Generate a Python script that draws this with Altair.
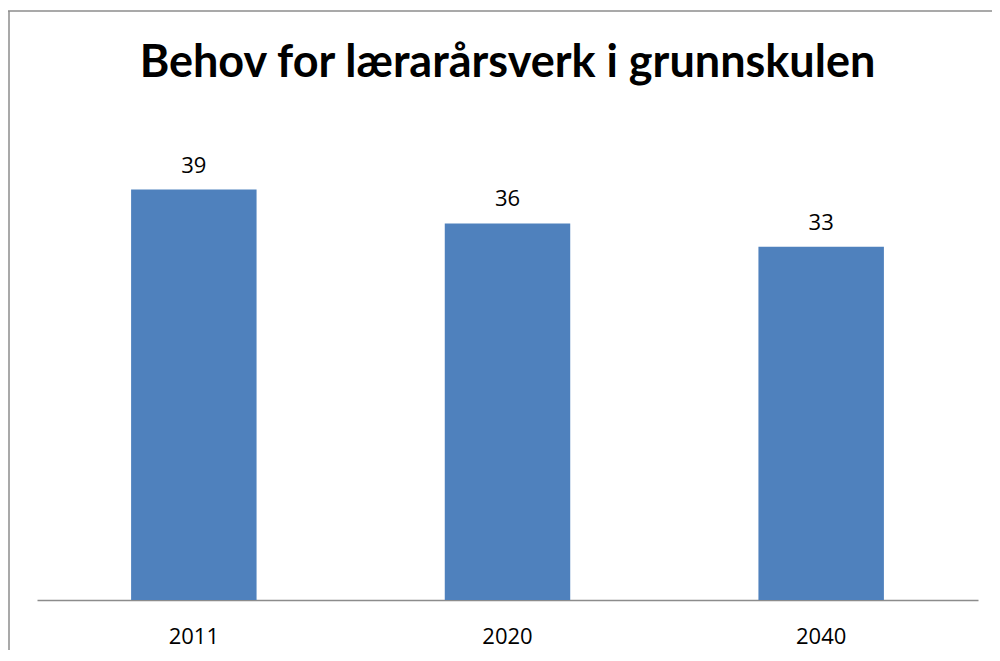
import altair as alt
import pandas as pd

years = ["2011", "2020", "2040"]
values = [38.8, 35.6, 33.4]
labels = ["39", "36", "33"]
title_text = ["Behov for lærarårsverk i grunnskulen"]

df = pd.DataFrame({"year": years, "value": values, "label": labels})

W, H = 941, 476

base = alt.Chart(df).encode(
    x=alt.X("year:N", sort=years, title=None,
            scale=alt.Scale(paddingInner=0.6, paddingOuter=0.3),
            axis=alt.Axis(labelAngle=0, labelFont="Open Sans", labelFontSize=22,
                          labelColor="#000000", labelPadding=26, ticks=False,
                          domainColor="#8c8c8c", domainWidth=1.5)),
    y=alt.Y("value:Q", scale=alt.Scale(domain=[0, 45], nice=False, zero=True),
            axis=None),
)

bars = base.mark_bar(color="#4F81BD")
text = base.mark_text(dy=-17, baseline="alphabetic", font="Open Sans",
                      fontSize=22, color="#000000").encode(text="label:N")

title = alt.Chart(pd.DataFrame({"t": title_text})).mark_text(
    font="Lato", fontSize=45, fontWeight="bold",
    color="#000000", align="center", baseline="alphabetic"
).encode(text="t:N", x=alt.value(W / 2), y=alt.value(-47))

frame = alt.Chart(alt.Data(values=[{"a": 1}]))
top_line = frame.mark_rule(color="#8c8c8c", strokeWidth=1.5).encode(
    x=alt.value(-29), x2=alt.value(1000), y=alt.value(-113))
left_line = frame.mark_rule(color="#8c8c8c", strokeWidth=1.5).encode(
    x=alt.value(-28), y=alt.value(-113), y2=alt.value(600))

chart = alt.layer(bars, text, title, top_line, left_line).properties(
    width=W, height=H,
    autosize=alt.AutoSizeParams(type="none"),
    padding={"left": 29, "top": 116, "right": 14, "bottom": 50},
).configure(background="white").configure_view(strokeWidth=0)

chart.save("out.html", embed_options={"renderer": "svg", "actions": False})
